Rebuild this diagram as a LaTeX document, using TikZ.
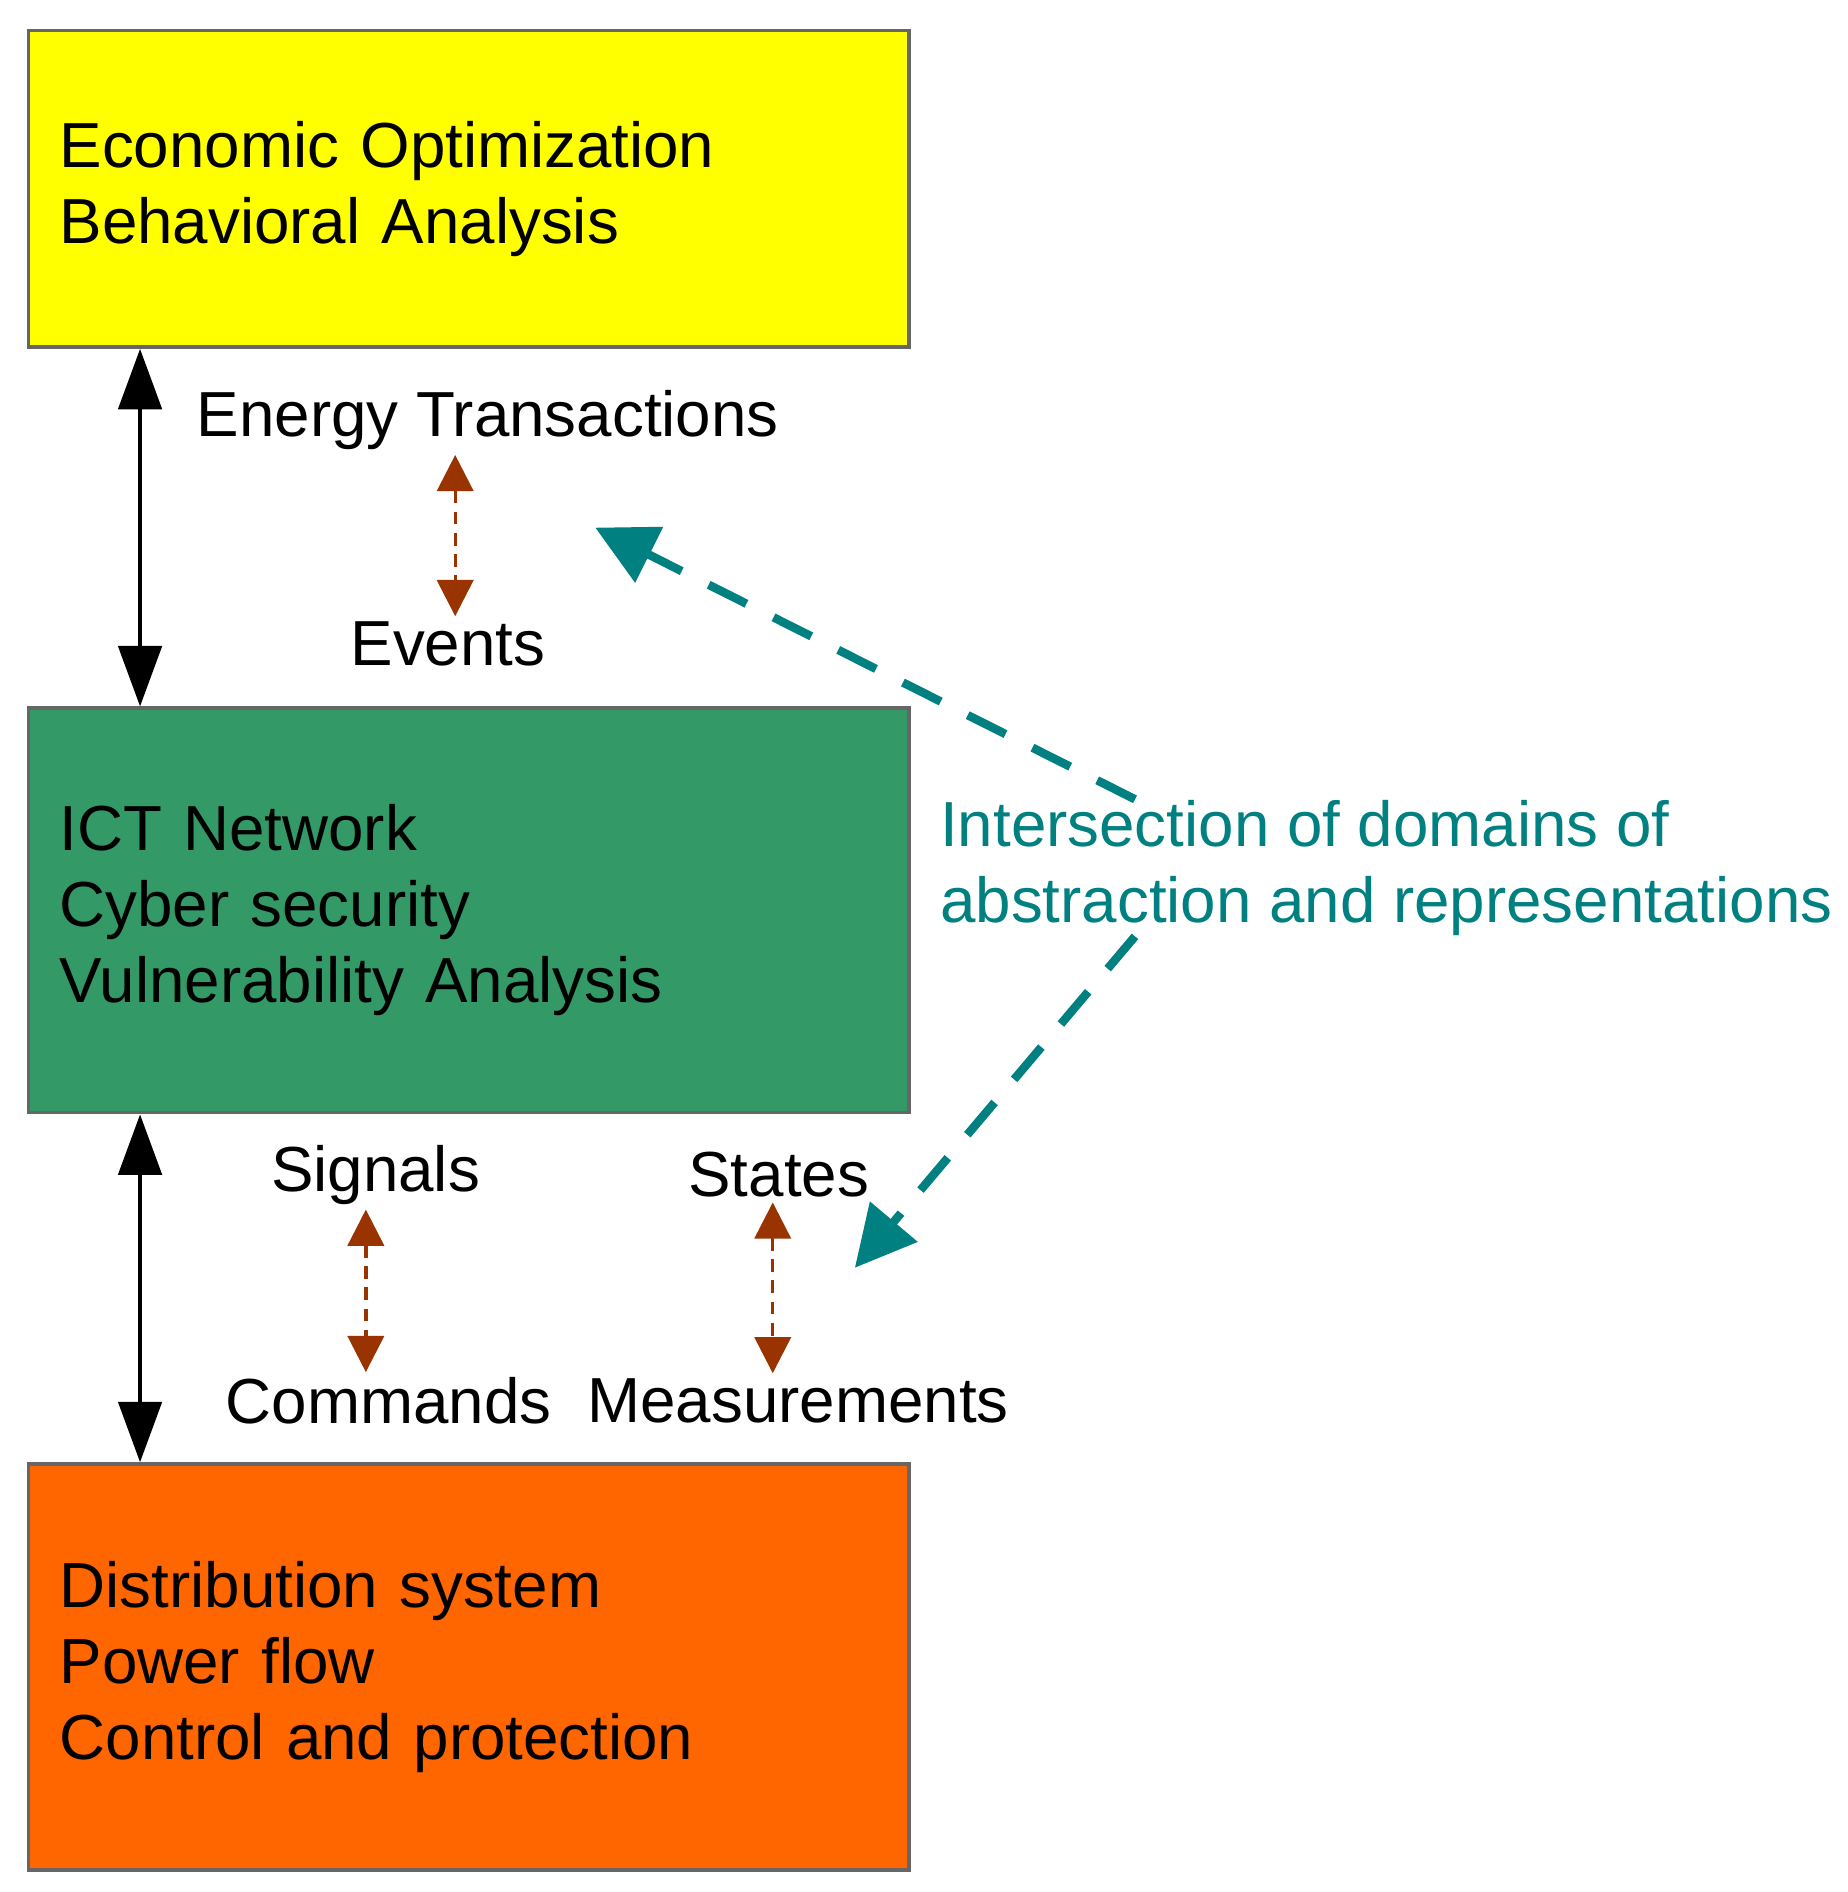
\documentclass[tikz,border=0pt]{standalone}
\usepackage{fontspec}
\setmainfont{Liberation Sans}
\usetikzlibrary{arrows.meta}
\definecolor{boxyellow}{RGB}{255,255,0}
\definecolor{boxgreen}{RGB}{51,153,102}
\definecolor{boxorange}{RGB}{255,102,0}
\definecolor{evbrown}{RGB}{153,51,0}
\definecolor{iteal}{RGB}{0,128,128}
\begin{document}
\begin{tikzpicture}[x=0.01cm,y=-0.01cm,
  every node/.style={font=\fontsize{15}{17.9}\selectfont},
  layerbox/.style={draw=black!60,line width=0.8pt,minimum width=7.29cm,text width=6.77cm,align=left,inner xsep=0.26cm,anchor=north west},
  tag/.style={inner sep=1pt},
  link/.style={{Triangle[width=0.36cm,length=0.5cm]}-{Triangle[width=0.36cm,length=0.5cm]},line width=0.8pt},
  ev/.style={{Triangle[width=0.3cm,length=0.3cm]}-{Triangle[width=0.3cm,length=0.3cm]},evbrown,densely dashed,line width=0.8pt},
  hint/.style={-{Triangle[width=0.5cm,length=0.5cm]},iteal,dash pattern=on 0.35cm off 0.25cm,line width=2pt}]
\useasboundingbox (0,0) rectangle (1530,1567);
% the three layers
\node (econ) [layerbox,fill=boxyellow,minimum height=2.62cm] at (22,24) {Economic Optimization\\Behavioral Analysis};
\node (ict) [layerbox,fill=boxgreen,minimum height=3.35cm] at (22,585) {ICT Network\\Cyber security\\Vulnerability Analysis};
\node (dist) [layerbox,fill=boxorange,minimum height=3.36cm] at (22,1211) {Distribution system\\Power flow\\Control and protection};
% labels
\node (trans) [tag] at (404,348) {Energy Transactions};
\node (events) [tag] at (371,533) {Events};
\node (signals) [tag] at (311,973) {Signals};
\node (states) [tag] at (645,973) {States};
\node (cmds) [tag] at (322,1160) {Commands};
\node (meas) [tag] at (661,1160) {Measurements};
\node (inter) [tag,anchor=north west,inner sep=0pt,text=iteal,align=left] at (778,662) {Intersection of domains of\\abstraction and representations};
\coordinate (tipA) at (493,437);
\coordinate (tipB) at (708,1050);
% connect the nodes
\draw[link] (econ.south -| 116,0) -- (ict.north -| 116,0);
\draw[link] (ict.south -| 116,0) -- (dist.north -| 116,0);
\draw[ev] (trans.south -| 377,0) -- (events.north -| 377,0);
\draw[ev] (signals.south -| 303,0) -- (cmds.north -| 303,0);
\draw[ev] (states.south -| 640,0) -- (meas.north -| 640,0);
\draw[hint] (inter.north -| 940,0) -- (tipA);
\draw[hint] (inter.south -| 940,0) -- (tipB);
\end{tikzpicture}
\end{document}
